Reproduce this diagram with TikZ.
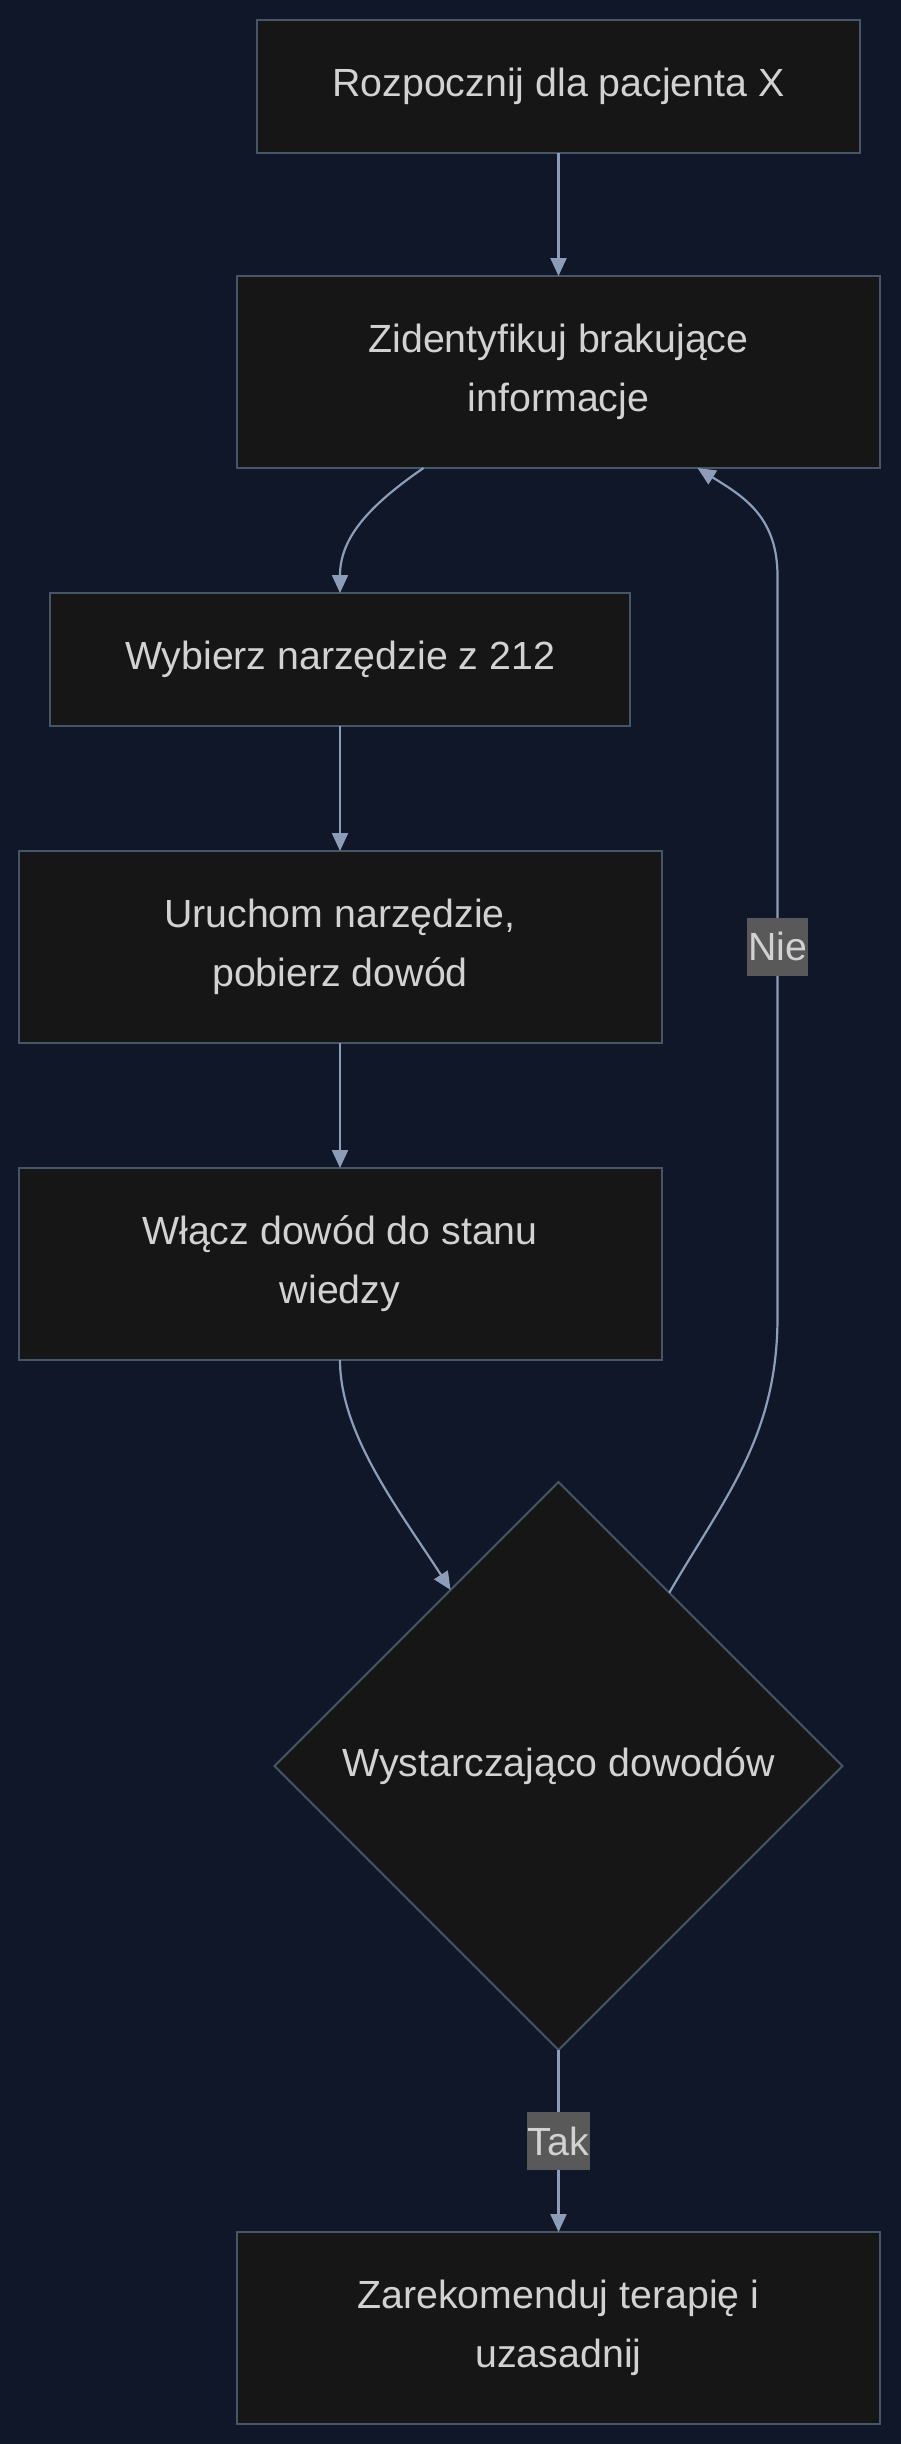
\documentclass[tikz,border=0pt]{standalone}
\usepackage{fontspec}
\setmainfont{Liberation Sans}
\usepackage{tikz}
\usetikzlibrary{positioning,arrows.meta,shapes.geometric,calc}
\definecolor{bgnavy}{HTML}{0F1729}
\definecolor{boxfill}{HTML}{161616}
\definecolor{boxline}{HTML}{475569}
\definecolor{edgeblue}{HTML}{8E9DB7}
\definecolor{txtgray}{HTML}{D2D2D2}
\definecolor{lblgray}{HTML}{595959}

\begin{document}
\begin{tikzpicture}[
  x=1pt, y=1pt,
  font=\fontsize{39.3}{59}\selectfont,
  >={Triangle[length=18pt,width=16pt]},
  blk/.style  = {draw=boxline, fill=boxfill, text=txtgray, align=center,
                 inner sep=0pt, outer sep=0pt, line width=2pt,
                 minimum width=#1, minimum height=133pt},
  tall/.style = {minimum height=192pt},
  dec/.style  = {diamond, aspect=1, draw=boxline, fill=boxfill, text=txtgray,
                 inner sep=0pt, outer sep=0pt, line width=2pt,
                 minimum width=568pt, minimum height=568pt},
  flow/.style = {->, line width=2.2pt, edgeblue},
  lbl/.style  = {fill=lblgray, text=txtgray, inner xsep=1pt, inner ysep=0pt,
                 minimum height=58pt, midway}
]

\def\vgap{125pt}

\useasboundingbox (0,0) rectangle (900,-2444);
\fill[bgnavy] (-6,6) rectangle (906,-2450);

% =========================== main column ===================================
\node[blk=603pt] (start) at (558.5,-86.5) {Rozpocznij dla pacjenta X};
\node[blk=643pt, tall, below=123pt of start] (ident)
  {Zidentyfikuj brakujące\\informacje};

% ======================== tool loop (left column) ==========================
\node[blk=580pt, below=\vgap of ident, xshift=-218.5pt] (wyb)
  {Wybierz narzędzie z 212};
\node[blk=643pt, tall, below=\vgap of wyb] (uru)
  {Uruchom narzędzie,\\pobierz dowód};
\node[blk=643pt, tall, below=\vgap of uru] (wlacz)
  {Włącz dowód do stanu\\wiedzy};

% ============================ decision ====================================
\node[dec, below=122pt of wlacz, xshift=218.5pt] (suff)
  {Wystarczająco dowodów};
\node[blk=643pt, tall, below=182pt of suff] (final)
  {Zarekomenduj terapię i\\uzasadnij};

% return line runs on this x, level with the middle box
\coordinate (loop) at ([xshift=116pt]uru.east);

\draw[flow] (start) -- (ident);
\draw[flow] ([xshift=-135pt]ident.south)
  .. controls +(-55,-38) and +(0,55) .. (wyb.north);
\draw[flow] (wyb) -- (uru);
\draw[flow] (uru) -- (wlacz);
\draw[flow] (wlacz.south)
  .. controls +(0,-75) and +(-50,78) .. ($(suff.north)!0.38!(suff.west)$);

% "Nie": back up to the identification step
\draw[flow] ($(suff.north)!0.39!(suff.east)$)
  .. controls +(55,95) and +(0,-120) .. ($(loop |- wlacz.south)+(0,43)$)
  -- node[lbl]{Nie} ($(loop |- ident.south)+(0,-108)$)
  .. controls +(0,60) and +(45,-28) .. ([xshift=139pt]ident.south);

\draw[flow] (suff) -- node[lbl]{Tak} (final);

\end{tikzpicture}
\end{document}
